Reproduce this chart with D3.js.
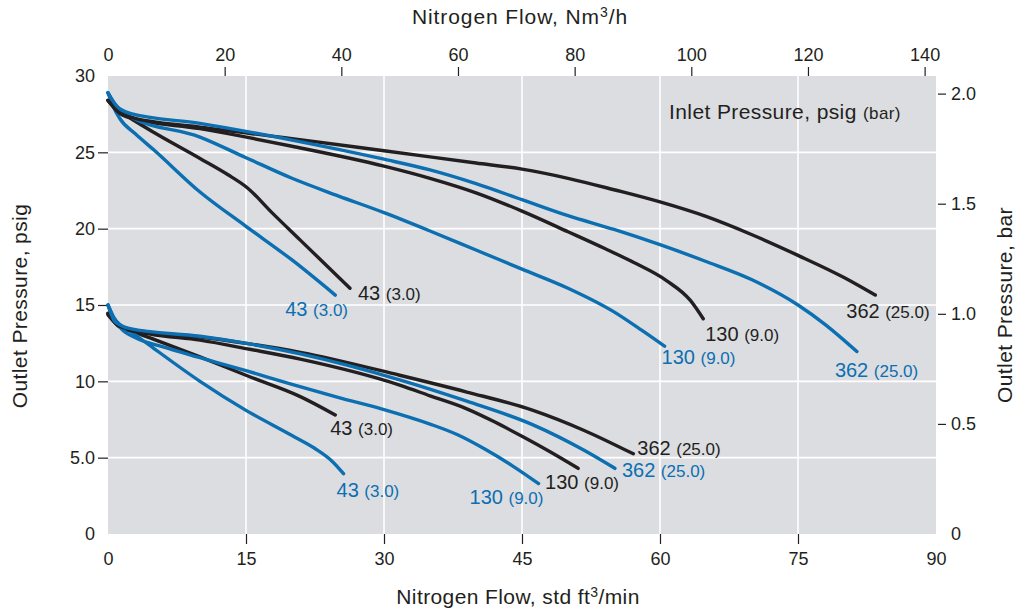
<!DOCTYPE html>
<html>
<head>
<meta charset="utf-8">
<script src="https://cdn.jsdelivr.net/npm/d3@7"></script>
<style>
  html, body { margin: 0; padding: 0; background: #ffffff; }
  svg { display: block; font-family: "Liberation Sans", Arial, Helvetica, sans-serif; }
</style>
</head>
<body>
<svg id="chart" width="1024" height="613"></svg>
<script>
// ---------- DATA ----------
const flowScfmTicks = [0, 15, 30, 45, 60, 75, 90];
const flowNm3Ticks = [0, 20, 40, 60, 80, 100, 120, 140];
const psigTicks = [0, 5, 10, 15, 20, 25, 30];
const psigTickLabels = ["0", "5.0", "10", "15", "20", "25", "30"];
const barTicks = [0, 0.5, 1.0, 1.5, 2.0];
const barTickLabels = ["0", "0.5", "1.0", "1.5", "2.0"];

// [flow scfm, outlet psig]
const black43Upper = [[0,28.4],[1,27.8],[2.4,27.25],[5,26.3],[10,24.6],[13,23.55],[15.1,22.7],[17.9,21.0],[20.9,19.25],[26.3,16.1]];
const blue43Upper = [[0,28.9],[0.5,28.1],[1.3,27.2],[3,26.2],[5,25.15],[10,22.4],[15,20.15],[20,17.95],[24.7,15.65]];
const black130Upper = [[0,28.4],[1,27.7],[2.4,27.25],[10,26.55],[20,25.4],[30,24.1],[35,23.3],[40,22.35],[45,21.15],[50,19.8],[54,18.7],[57.1,17.8],[60.7,16.6],[63.3,15.3],[64.7,14.1]];
const blue130Upper = [[0,28.9],[1,27.9],[2.4,27.35],[10,26.0],[15,24.65],[20,23.3],[25,22.15],[30,21.05],[35,19.85],[40,18.6],[45,17.35],[50,16.1],[55,14.55],[58,13.35],[60.5,12.3]];
const black362Upper = [[0,28.4],[1,27.75],[2.4,27.3],[10,26.65],[20,25.9],[30,25.1],[40,24.3],[45,23.9],[50,23.3],[55,22.55],[60,21.75],[65,20.8],[70,19.6],[75,18.25],[80,16.8],[83.4,15.65]];
const blue362Upper = [[0,28.9],[1,28.0],[2.4,27.55],[10,26.9],[20,25.8],[30,24.55],[35,23.85],[40,22.95],[45,21.9],[50,20.85],[55,19.95],[60,18.95],[65,17.85],[70,16.65],[75,15.0],[78,13.7],[81.4,11.95]];

const black43Lower = [[0,14.35],[1,13.7],[2.75,13.25],[5,12.75],[10,11.6],[15.4,10.3],[20.9,9.0],[24.7,7.8]];
const blue43Lower = [[0,15.0],[0.6,14.2],[2.75,13.15],[5,12.15],[10,10.0],[15,8.1],[20,6.45],[22.5,5.6],[24.3,4.8],[25.6,3.95]];
const black130Lower = [[0,14.45],[1.3,13.55],[4.6,13.1],[10,12.7],[15.4,12.1],[20.9,11.45],[31.7,9.75],[35,9.05],[39,8.2],[42,7.35],[45,6.4],[48,5.4],[51.1,4.3]];
const blue130Lower = [[0,15.0],[0.6,14.2],[1.3,13.55],[3,12.85],[6,12.25],[10,11.55],[15,10.7],[20,9.8],[25,8.95],[30,8.15],[35,7.2],[38,6.5],[41,5.55],[44,4.45],[46.8,3.3]];
const black362Lower = [[0,14.45],[1.3,13.6],[4.6,13.2],[10,12.9],[15.4,12.45],[20.9,11.9],[31.7,10.4],[39,9.3],[46.2,8.1],[51.7,6.8],[57.1,5.25]];
const blue362Lower = [[0,15.0],[0.76,13.9],[2.4,13.45],[10,12.95],[15.4,12.45],[20.9,11.8],[31.7,10.1],[39,8.7],[46.2,7.15],[51.7,5.5],[55.1,4.3]];

const curveLabelNums = ["43", "43", "130", "130", "362", "362", "43", "43", "130", "130", "362", "362"];
const curveLabelBars = ["(3.0)", "(3.0)", "(9.0)", "(9.0)", "(25.0)", "(25.0)", "(3.0)", "(3.0)", "(9.0)", "(9.0)", "(25.0)", "(25.0)"];
const curveSeries = [black43Upper, blue43Upper, black130Upper, blue130Upper, black362Upper, blue362Upper,
                     black43Lower, blue43Lower, black130Lower, blue130Lower, black362Lower, blue362Lower];
const curveKinds = ["black", "blue", "black", "blue", "black", "blue", "black", "blue", "black", "blue", "black", "blue"];

// ---------- STYLE ----------
const colors = { black: "#231f20", blue: "#0b6fb2" };
const labelOffsets = [[8,12],[-50,21],[2,22],[-3,18],[-29,23],[-22,25],[-5,20],[-7,23],[-33,21],[-69,20],[4,1],[7,9]];
const textColor = "#231f20";
const plot = { left: 108, right: 936, top: 76, bottom: 534 };

const svg = d3.select("#chart");

const x = d3.scaleLinear().domain([0, 90]).range([plot.left, plot.right]);
const xTop = d3.scaleLinear().domain([0, 141.95]).range([plot.left, plot.right]);
const y = d3.scaleLinear().domain([0, 30]).range([plot.bottom, plot.top]);
const yBar = d3.scaleLinear().domain([0, 2.08]).range([plot.bottom, plot.top]);

// background
svg.append("rect").attr("x", plot.left).attr("y", plot.top)
  .attr("width", plot.right - plot.left).attr("height", plot.bottom - plot.top)
  .attr("fill", "#dcdde0");

// grid
const gGrid = svg.append("g");
gGrid.selectAll("line.v").data(flowScfmTicks.filter(d => d > 0 && d < 90)).join("line")
  .attr("x1", d => x(d)).attr("x2", d => x(d)).attr("y1", plot.top).attr("y2", plot.bottom)
  .attr("stroke", "#ffffff").attr("stroke-width", 1.6);
gGrid.selectAll("line.h").data(psigTicks.filter(d => d > 0 && d < 30)).join("line")
  .attr("y1", d => y(d)).attr("y2", d => y(d)).attr("x1", plot.left).attr("x2", plot.right)
  .attr("stroke", "#ffffff").attr("stroke-width", 1.6);

// axes (using d3 axes, restyled)
function styleAxis(g, hideEnds) {
  g.select(".domain").remove();
  g.selectAll(".tick line").attr("stroke", textColor).attr("stroke-width", 1.2);
  g.selectAll(".tick text").attr("fill", textColor).attr("font-size", 18)
    .attr("font-family", "\"Liberation Sans\", Arial, sans-serif");
  if (hideEnds) g.selectAll(".tick").filter(hideEnds).select("line").remove();
}

const bottomAxis = d3.axisBottom(x).tickValues(flowScfmTicks).tickSize(10).tickPadding(8).tickFormat(d3.format("d"));
const gB = svg.append("g").attr("transform", `translate(0,${plot.bottom})`).call(bottomAxis);
styleAxis(gB, d => d === 0 || d === 90);

const topAxis = d3.axisTop(xTop).tickValues(flowNm3Ticks).tickSize(9).tickPadding(6).tickFormat(d3.format("d"));
const gT = svg.append("g").attr("transform", `translate(0,${plot.top})`).call(topAxis);
styleAxis(gT, d => d === 0);

const leftAxis = d3.axisLeft(y).tickValues(psigTicks).tickSize(10).tickPadding(3)
  .tickFormat((d, i) => psigTickLabels[i]);
const gL = svg.append("g").attr("transform", `translate(${plot.left},0)`).call(leftAxis);
styleAxis(gL, d => d === 0 || d === 30);

const rightAxis = d3.axisRight(yBar).tickValues(barTicks).tickSize(0).tickPadding(0)
  .tickFormat((d, i) => barTickLabels[i]);
const gR = svg.append("g").attr("transform", `translate(${plot.right},0)`).call(rightAxis);
styleAxis(gR, null);
gR.selectAll(".tick text").attr("x", 15);
gR.selectAll(".tick").filter(d => d > 0).append("line")
  .attr("x1", 2).attr("x2", 10).attr("stroke", textColor).attr("stroke-width", 1.2);

// axis titles
const titleSize = 21;
const titleSpacing = 0.4;
const tTop = svg.append("text").attr("x", 520).attr("y", 24).attr("text-anchor", "middle")
  .attr("font-size", titleSize).attr("letter-spacing", 0.9).attr("fill", textColor);
tTop.append("tspan").text("Nitrogen Flow, Nm");
tTop.append("tspan").attr("font-size", 14).attr("dy", -7).text("3");
tTop.append("tspan").attr("dy", 7).text("/h");

const tBot = svg.append("text").attr("x", 518).attr("y", 604).attr("text-anchor", "middle")
  .attr("font-size", titleSize).attr("letter-spacing", titleSpacing).attr("fill", textColor);
tBot.append("tspan").text("Nitrogen Flow, std ft");
tBot.append("tspan").attr("font-size", 14).attr("dy", -7).text("3");
tBot.append("tspan").attr("dy", 7).text("/min");

svg.append("text").attr("transform", "translate(27,306) rotate(-90)").attr("text-anchor", "middle")
  .attr("font-size", titleSize).attr("letter-spacing", titleSpacing).attr("fill", textColor).text("Outlet Pressure, psig");
svg.append("text").attr("transform", "translate(1012,305) rotate(-90)").attr("text-anchor", "middle")
  .attr("font-size", titleSize).attr("letter-spacing", titleSpacing).attr("fill", textColor).text("Outlet Pressure, bar");

// annotation
const ann = svg.append("text").attr("x", 669).attr("y", 119).attr("font-size", 21)
  .attr("letter-spacing", titleSpacing).attr("fill", textColor);
ann.append("tspan").text("Inlet Pressure, psig ");
ann.append("tspan").attr("font-size", 17).text("(bar)");

// curves
const line = d3.line().x(d => x(d[0])).y(d => y(d[1])).curve(d3.curveMonotoneX);
const gC = svg.append("g");
curveSeries.forEach((s, i) => {
  gC.append("path").attr("d", line(s)).attr("fill", "none")
    .attr("stroke", colors[curveKinds[i]]).attr("stroke-width", 3.4)
    .attr("stroke-linecap", "round").attr("stroke-linejoin", "round");
});

// curve labels
curveSeries.forEach((s, i) => {
  const end = s[s.length - 1];
  const t = svg.append("text")
    .attr("x", x(end[0]) + labelOffsets[i][0])
    .attr("y", y(end[1]) + labelOffsets[i][1])
    .attr("fill", colors[curveKinds[i]]).attr("font-size", 20);
  t.append("tspan").text(curveLabelNums[i] + " ");
  t.append("tspan").attr("font-size", 17).text(curveLabelBars[i]);
});
</script>
</body>
</html>
